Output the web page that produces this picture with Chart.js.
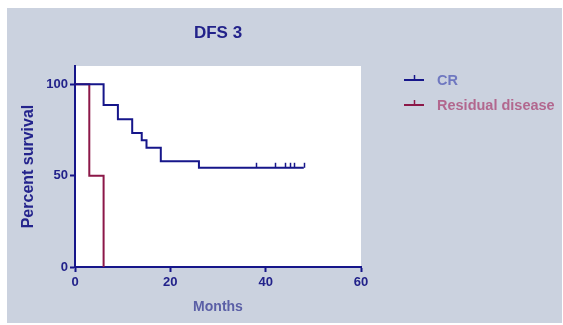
<!DOCTYPE html>
<html>
<head>
<meta charset="utf-8">
<title>DFS 3</title>
<script src="https://cdn.jsdelivr.net/npm/chart.js@4/dist/chart.umd.min.js"></script>
<style>
  html, body { margin: 0; padding: 0; background: #ffffff; }
  #wrap { position: relative; width: 563px; height: 325px; }
  canvas { display: block; }
</style>
</head>
<body>
<div id="wrap"><canvas id="km" width="563" height="325"></canvas></div>
<script>
// Kaplan-Meier disease-free survival, months vs percent surviving
const chartTitle = 'DFS 3';
const xTitle = 'Months';
const yTitle = 'Percent survival';
const xTicks = [0, 20, 40, 60];
const yTicks = [0, 50, 100];

// CR group: step times and survival after each step
const crTimes = [0, 6, 9, 12, 14, 15, 18, 26, 48];
const crSurvival = [100, 88.7, 80.8, 73.3, 69.3, 65.2, 57.9, 54.3, 54.3];
const crCensored = [38, 42, 44, 45, 46, 48];

// Residual disease group
const rdTimes = [0, 3, 6];
const rdSurvival = [100, 50, 0];
const rdCensored = [];

const seriesLabels = ['CR', 'Residual disease'];
const navy = '#16168a';
const maroon = '#8c1848';
const legendTextColors = ['#6f78c0', '#b2678e'];

function toPoints(xs, ys) { return xs.map((x, i) => ({ x: x, y: ys[i] })); }

// survival value at time t for a stepped curve
function survivalAt(xs, ys, t) {
  let v = ys[0];
  for (let i = 0; i < xs.length; i++) { if (xs[i] <= t) v = ys[i]; }
  return v;
}

const panelPlugin = {
  id: 'panel',
  beforeDraw(chart) {
    const { ctx, chartArea } = chart;
    ctx.save();
    ctx.fillStyle = '#cbd2df';
    ctx.fillRect(7, 8, 555, 315);
    ctx.fillStyle = '#ffffff';
    ctx.fillRect(chartArea.left, chartArea.top, chartArea.right - chartArea.left, chartArea.bottom - chartArea.top);
    ctx.restore();
  }
};

const censorPlugin = {
  id: 'censorTicks',
  afterDatasetsDraw(chart) {
    const { ctx, scales } = chart;
    const groups = [
      { xs: crTimes, ys: crSurvival, cens: crCensored, color: navy },
      { xs: rdTimes, ys: rdSurvival, cens: rdCensored, color: maroon }
    ];
    ctx.save();
    ctx.lineWidth = 1.5;
    groups.forEach(g => {
      ctx.strokeStyle = g.color;
      g.cens.forEach(t => {
        const px = Math.round(scales.x.getPixelForValue(t)) + 0.5;
        const py = scales.y.getPixelForValue(survivalAt(g.xs, g.ys, t));
        ctx.beginPath();
        ctx.moveTo(px, py);
        ctx.lineTo(px, py - 5);
        ctx.stroke();
      });
    });
    ctx.restore();
  }
};

const titleLegendPlugin = {
  id: 'titleLegend',
  afterDraw(chart) {
    const { ctx, chartArea } = chart;
    ctx.save();
    // title centred over the plot
    ctx.fillStyle = '#22228a';
    ctx.font = 'bold 17px "Liberation Sans", Arial, sans-serif';
    ctx.textAlign = 'center';
    ctx.textBaseline = 'middle';
    ctx.fillText(chartTitle, (chartArea.left + chartArea.right) / 2, 33);

    // legend: line with a censor tick, then the label
    const colors = [navy, maroon];
    seriesLabels.forEach((label, i) => {
      const y = 80 + i * 25;
      ctx.strokeStyle = colors[i];
      ctx.lineWidth = 2;
      ctx.beginPath();
      ctx.moveTo(404, y);
      ctx.lineTo(424, y);
      ctx.stroke();
      ctx.lineWidth = 1.5;
      ctx.beginPath();
      ctx.moveTo(414.5, y);
      ctx.lineTo(414.5, y - 5);
      ctx.stroke();
      ctx.fillStyle = legendTextColors[i];
      ctx.font = 'bold 14.5px "Liberation Sans", Arial, sans-serif';
      ctx.textAlign = 'left';
      ctx.textBaseline = 'middle';
      ctx.fillText(label, 437, y + 0.5);
    });
    ctx.restore();
  }
};

new Chart(document.getElementById('km'), {
  type: 'line',
  data: {
    datasets: [
      {
        label: seriesLabels[0],
        data: toPoints(crTimes, crSurvival),
        borderColor: navy,
        borderWidth: 2,
        stepped: 'before',
        pointRadius: 0,
        fill: false
      },
      {
        label: seriesLabels[1],
        data: toPoints(rdTimes, rdSurvival),
        borderColor: maroon,
        borderWidth: 2,
        stepped: 'before',
        pointRadius: 0,
        fill: false
      }
    ]
  },
  options: {
    responsive: false,
    animation: false,
    devicePixelRatio: 1,
    layout: { padding: { left: 7, top: 66, right: 202, bottom: 0 } },
    plugins: {
      legend: { display: false },
      title: { display: false },
      tooltip: { enabled: false }
    },
    scales: {
      x: {
        type: 'linear',
        min: 0,
        max: 60,
        afterBuildTicks(scale) { scale.ticks = xTicks.map(v => ({ value: v })); },
        afterFit(scale) { scale.height = 58; },
        grid: { display: true, drawOnChartArea: false, drawTicks: true, tickLength: 5, tickWidth: 2, tickColor: navy },
        border: { display: true, color: navy, width: 2 },
        ticks: {
          color: '#22228a',
          padding: 3,
          maxRotation: 0,
          font: { family: '"Liberation Sans", Arial, sans-serif', size: 13, weight: 'bold' }
        },
        title: {
          display: true,
          text: xTitle,
          color: '#5a5fa6',
          padding: { top: 0, bottom: 9 },
          font: { family: '"Liberation Sans", Arial, sans-serif', size: 14, weight: 'bold' }
        }
      },
      y: {
        type: 'linear',
        min: 0,
        max: 110,
        afterBuildTicks(scale) { scale.ticks = yTicks.map(v => ({ value: v })); },
        afterFit(scale) { scale.width = 68; },
        grid: { display: true, drawOnChartArea: false, drawTicks: true, tickLength: 5, tickWidth: 2, tickColor: navy },
        border: { display: true, color: navy, width: 2 },
        ticks: {
          color: '#22228a',
          padding: 2,
          font: { family: '"Liberation Sans", Arial, sans-serif', size: 13, weight: 'bold' }
        },
        title: {
          display: true,
          text: yTitle,
          color: '#24248c',
          padding: { top: 12, bottom: 0 },
          font: { family: '"Liberation Sans", Arial, sans-serif', size: 16, weight: 'bold' }
        }
      }
    }
  },
  plugins: [panelPlugin, censorPlugin, titleLegendPlugin]
});
</script>
</body>
</html>
